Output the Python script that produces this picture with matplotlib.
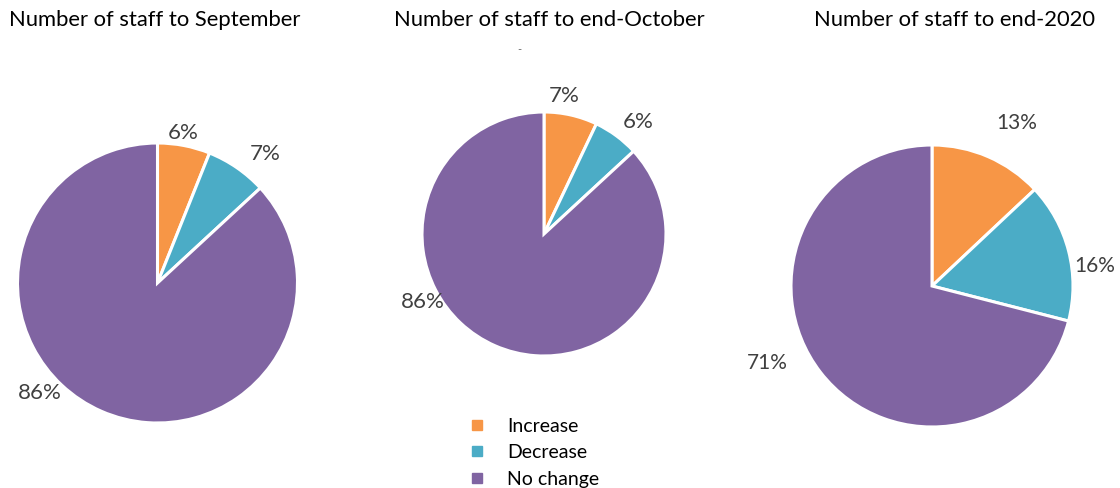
import numpy as np
import matplotlib.pyplot as plt
from matplotlib.lines import Line2D

plt.rcParams['font.family'] = ['Lato', 'DejaVu Sans']

categories = ["Increase", "Decrease", "No change"]
titles = ["Number of staff to September",
          "Number of staff to end-October",
          "Number of staff to end-2020"]
september = [6, 7, 86]
end_october = [7, 6, 86]
end_2020 = [13, 16, 71]

colors = ["#F79646", "#4BACC6", "#8064A2"]

W, H = 1120, 488
fig = plt.figure(figsize=(11.2, 4.88), dpi=100)
ax = fig.add_axes([0, 0, 1, 1])

# (values, centre in px from top-left, radius, label size, label (angle, distance))
pies = [
    (september, (157.5, 283), 140, 16, [(80.4, 1.09), (50.2, 1.2), (-136.9, 1.15)]),
    (end_october, (544, 234), 122, 16, [(81.7, 1.14), (50, 1.2), (-150.6, 1.14)]),
    (end_2020, (932, 286), 141, 15, [(62.5, 1.3), (7, 1.165), (-155, 1.29)]),
]
title_x = [155, 549, 955]

for (values, (cx, cy), r, fs, label_pos), title, tx in zip(pies, titles, title_x):
    ax.pie(values, colors=colors, startangle=90, counterclock=False,
           center=(cx, H - cy), radius=r,
           wedgeprops=dict(edgecolor='white', linewidth=2.2))
    for v, (ang, d) in zip(values, label_pos):
        a = np.deg2rad(ang)
        ax.text(cx + d * r * np.cos(a), H - cy + d * r * np.sin(a), f"{v}%",
                ha='center', va='center', fontsize=fs, color='#404040')
    ax.text(tx, H - 20, title, ha='center', va='center', fontsize=15.8, color='black')

ax.text(519, H - 50, "-", ha='center', va='center', fontsize=8, color='#666666')

handles = [Line2D([], [], marker='s', linestyle='none', markersize=7,
                  markerfacecolor=c, markeredgecolor=c) for c in colors]
ax.legend(handles, categories, loc='upper left', bbox_to_anchor=(450, H - 400),
          bbox_transform=ax.transData, frameon=False, fontsize=14,
          handlelength=1.0, handletextpad=1.05, labelspacing=0.5)

ax.set_xlim(0, W)
ax.set_ylim(0, H)
ax.set_aspect('equal')
ax.axis('off')

plt.savefig('out.png', dpi=100)
